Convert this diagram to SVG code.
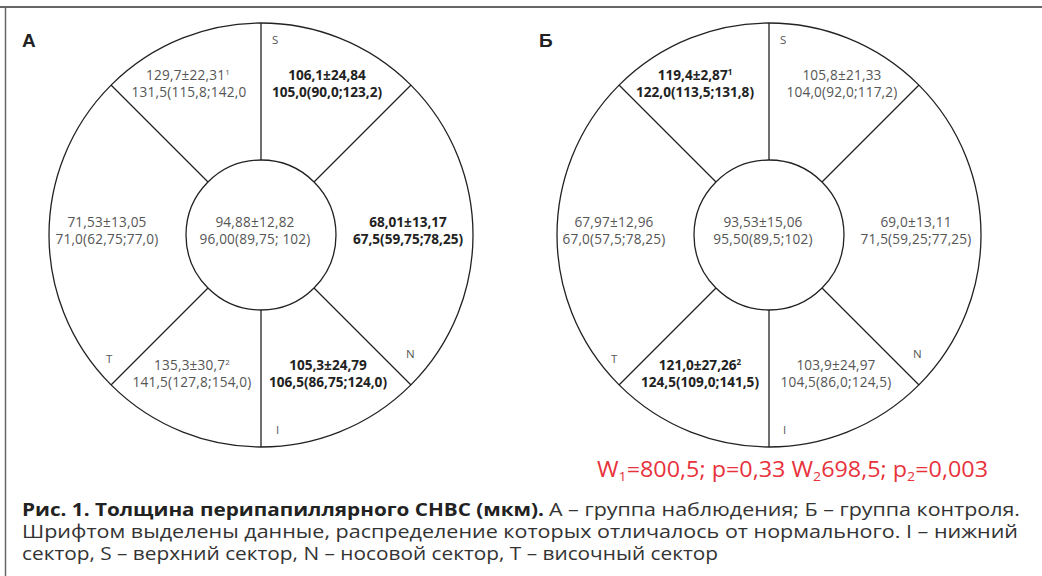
<svg xmlns="http://www.w3.org/2000/svg" width="1042" height="576" viewBox="0 0 1042 576">
<style>
  .ring{fill:none;stroke:#222;stroke-width:1.3}
  .ln{stroke:#222;stroke-width:1.3}
  .v{font-family:"Open Sans","Noto Sans",sans-serif;font-size:13.6px;letter-spacing:0.2px;fill:#555;text-anchor:middle}
  .b{font-family:"Open Sans","Noto Sans",sans-serif;font-size:13.6px;fill:#222;font-weight:bold;text-anchor:middle}
  .lab{font-family:"Open Sans","Noto Sans",sans-serif;font-size:11.5px;fill:#555}
  .big{font-family:"Liberation Sans",Arial,sans-serif;font-size:19px;font-weight:bold;fill:#222}
  .sup{font-size:8px}
  .cap{font-family:"Open Sans","Noto Sans",sans-serif;font-size:18px;fill:#333}
  .capb{font-family:"Open Sans","Noto Sans",sans-serif;font-size:18px;fill:#222;font-weight:bold}
  .red{font-family:"Open Sans","Noto Sans",sans-serif;font-size:21.5px;fill:#e8323c}
</style>
<rect width="1042" height="576" fill="#fff"/>
<g id="frame">
  <line x1="0" y1="7" x2="1042" y2="7" stroke="#666" stroke-width="2"/>
  <line x1="5.5" y1="6" x2="5.5" y2="576" stroke="#666" stroke-width="1.5"/>
</g>
<g id="connectors">
  <line class="ln" x1="261" y1="23" x2="261" y2="160"/>
  <line class="ln" x1="261" y1="310" x2="261" y2="447"/>
  <line class="ln" x1="111" y1="85" x2="208" y2="182"/>
  <line class="ln" x1="411" y1="85" x2="314" y2="182"/>
  <line class="ln" x1="111" y1="385" x2="208" y2="288"/>
  <line class="ln" x1="411" y1="385" x2="314" y2="288"/>
  <line class="ln" x1="769" y1="23" x2="769" y2="160"/>
  <line class="ln" x1="769" y1="310" x2="769" y2="447"/>
  <line class="ln" x1="619" y1="85" x2="716" y2="182"/>
  <line class="ln" x1="919" y1="85" x2="822" y2="182"/>
  <line class="ln" x1="619" y1="385" x2="716" y2="288"/>
  <line class="ln" x1="919" y1="385" x2="822" y2="288"/>
</g>
<g id="diagramA">
  <circle class="ring" cx="261" cy="235" r="212"/>
  <circle class="ring" cx="261" cy="235" r="75"/>
  <text class="big" x="22" y="47">А</text>
  <text class="lab" x="272" y="44">S</text>
  <text class="lab" x="106" y="363">T</text>
  <text class="lab" x="406" y="358">N</text>
  <text class="lab" x="276" y="434">I</text>
  <text class="v" x="188" y="80">129,7±22,31<tspan class="sup" dy="-5">1</tspan></text>
  <text class="v" x="189" y="97">131,5(115,8;142,0</text>
  <text class="b" x="327" y="80">106,1±24,84</text>
  <text class="b" x="327" y="97">105,0(90,0;123,2)</text>
  <text class="v" x="107" y="227">71,53±13,05</text>
  <text class="v" x="107" y="244">71,0(62,75;77,0)</text>
  <text class="v" x="255" y="227">94,88±12,82</text>
  <text class="v" x="255" y="244">96,00(89,75; 102)</text>
  <text class="b" x="408" y="227">68,01±13,17</text>
  <text class="b" x="408" y="244">67,5(59,75;78,25)</text>
  <text class="v" x="192" y="369.5">135,3±30,7<tspan class="sup" dy="-5">2</tspan></text>
  <text class="v" x="192" y="386.5">141,5(127,8;154,0)</text>
  <text class="b" x="328" y="369.5">105,3±24,79</text>
  <text class="b" x="328" y="386.5">106,5(86,75;124,0)</text>
</g>
<g id="diagramB">
  <circle class="ring" cx="769" cy="235" r="212"/>
  <circle class="ring" cx="769" cy="235" r="75"/>
  <text class="big" x="539" y="47">Б</text>
  <text class="lab" x="780" y="44">S</text>
  <text class="lab" x="611" y="363">T</text>
  <text class="lab" x="913" y="358">N</text>
  <text class="lab" x="783" y="434">I</text>
  <text class="b" x="695" y="80">119,4±2,87<tspan class="sup" dy="-5">1</tspan></text>
  <text class="b" x="695" y="97">122,0(113,5;131,8)</text>
  <text class="v" x="842" y="80">105,8±21,33</text>
  <text class="v" x="842" y="97">104,0(92,0;117,2)</text>
  <text class="v" x="614" y="227">67,97±12,96</text>
  <text class="v" x="614" y="244">67,0(57,5;78,25)</text>
  <text class="v" x="763" y="227">93,53±15,06</text>
  <text class="v" x="763" y="244">95,50(89,5;102)</text>
  <text class="v" x="916" y="227">69,0±13,11</text>
  <text class="v" x="916" y="244">71,5(59,25;77,25)</text>
  <text class="b" x="700" y="369.5">121,0±27,26<tspan class="sup" dy="-5">2</tspan></text>
  <text class="b" x="700" y="386.5">124,5(109,0;141,5)</text>
  <text class="v" x="836" y="369.5">103,9±24,97</text>
  <text class="v" x="836" y="386.5">104,5(86,0;124,5)</text>
</g>
<g id="stats">
  <text class="red" x="597" y="477" textLength="391" lengthAdjust="spacingAndGlyphs">W<tspan font-size="13" dy="4">1</tspan><tspan dy="-4">=800,5; p=0,33 W</tspan><tspan font-size="13" dy="4">2</tspan><tspan dy="-4">698,5; p</tspan><tspan font-size="13" dy="4">2</tspan><tspan dy="-4">=0,003</tspan></text>
</g>
<g id="caption">
  <text class="capb" x="22" y="516" textLength="522" lengthAdjust="spacingAndGlyphs">Рис. 1. Толщина перипапиллярного СНВС (мкм).</text>
  <text class="cap" x="549" y="516" textLength="471" lengthAdjust="spacingAndGlyphs">А – группа наблюдения; Б – группа контроля.</text>
  <text class="cap" x="22" y="538" textLength="996" lengthAdjust="spacingAndGlyphs">Шрифтом выделены данные, распределение которых отличалось от нормального. I – нижний</text>
  <text class="cap" x="22" y="560" textLength="696" lengthAdjust="spacingAndGlyphs">сектор, S – верхний сектор, N – носовой сектор, T – височный сектор</text>
</g>
</svg>
